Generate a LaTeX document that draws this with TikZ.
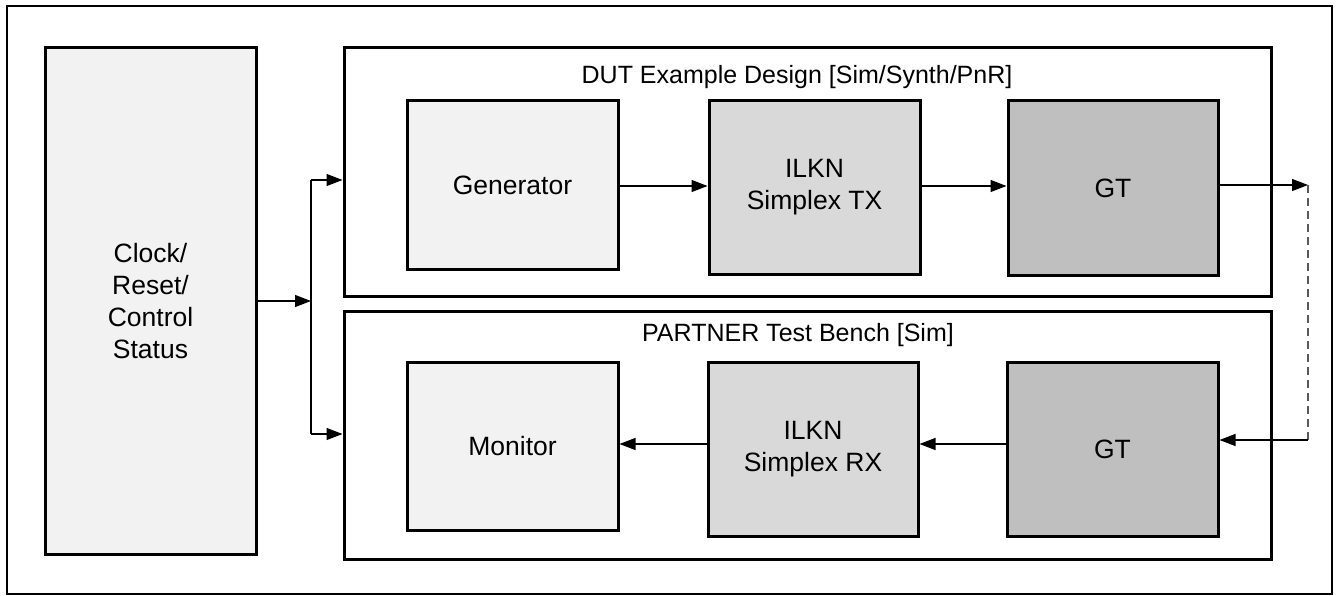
\documentclass[tikz,border=0pt]{standalone}
\usepackage{fontspec}
\setmainfont{Liberation Sans}
\usetikzlibrary{arrows.meta}
\definecolor{fillA}{HTML}{F2F2F2}
\definecolor{fillB}{HTML}{D9D9D9}
\definecolor{fillC}{HTML}{BFBFBF}
\begin{document}
\begin{tikzpicture}[x=1pt,y=-1pt,
  blk/.style={draw=black, line width=3pt, inner sep=0pt, align=center,
    font=\fontsize{26.5}{32}\selectfont},
  frame/.style={draw=black, line width=3pt, inner sep=0pt},
  ttl/.style={anchor=base, inner sep=0pt, font=\fontsize{25}{32}\selectfont},
  arr/.style={draw=black, line width=1.2pt, -{Triangle[length=16pt,width=12pt]}},
  link/.style={draw=black!65, line width=1.2pt, dash pattern=on 8pt off 5pt}]
\useasboundingbox (0,0) rectangle (1338,596);
\node[draw=black, line width=2pt, minimum width=1325pt, minimum height=588pt, inner sep=0pt] (outer) at (669.5,300) {};
\node[blk, fill=fillA, minimum width=211pt, minimum height=506pt] (clk) at (150.5,301) {Clock/\\Reset/\\Control\\Status};
\node[frame, minimum width=927pt, minimum height=248pt] (dut) at (807.5,172) {};
\node[frame, minimum width=927pt, minimum height=248pt] (tb) at (807.5,435) {};
\node[ttl] (dutt) at (797,84) {DUT Example Design [Sim/Synth/PnR]};
\node[ttl] (tbt) at (798,341) {PARTNER Test Bench [Sim]};
\node[blk, fill=fillA, minimum width=211pt, minimum height=169pt] (gen) at (512.5,185) {Generator};
\node[blk, fill=fillB, minimum width=211pt, minimum height=173pt] (tx) at (814.5,187.5) {ILKN\\Simplex TX};
\node[blk, fill=fillC, minimum width=210pt, minimum height=174pt] (gt1) at (1113,188) {GT};
\node[blk, fill=fillA, minimum width=211pt, minimum height=168pt] (mon) at (512.5,446) {Monitor};
\node[blk, fill=fillB, minimum width=210pt, minimum height=174pt] (rx) at (813,449) {ILKN\\Simplex RX};
\node[blk, fill=fillC, minimum width=211pt, minimum height=174pt] (gt2) at (1112.5,449) {GT};
% clock distribution
\coordinate (split) at (311,301);
\coordinate (splitT) at (311,180);
\coordinate (splitB) at (311,434);
\draw[arr] (clk.east |- split) -- (split);
\draw[line width=1.2pt] (splitT) -- (splitB);
\draw[arr] (splitT) -- (dut.west |- splitT);
\draw[arr] (splitB) -- (tb.west |- splitB);
% data path
\draw[arr] (gen.east |- 0,186) -- (tx.west |- 0,186);
\draw[arr] (tx.east |- 0,186) -- (gt1.west |- 0,186);
\coordinate (loopT) at (1308,185);
\coordinate (loopB) at (1308,440);
\draw[arr] (gt1.east |- loopT) -- (loopT);
\draw[link] (loopT) -- (loopB);
\draw[arr] (loopB) -- (gt2.east |- loopB);
\draw[arr] (gt2.west |- 0,444) -- (rx.east |- 0,444);
\draw[arr] (rx.west |- 0,444) -- (mon.east |- 0,444);
\end{tikzpicture}
\end{document}
